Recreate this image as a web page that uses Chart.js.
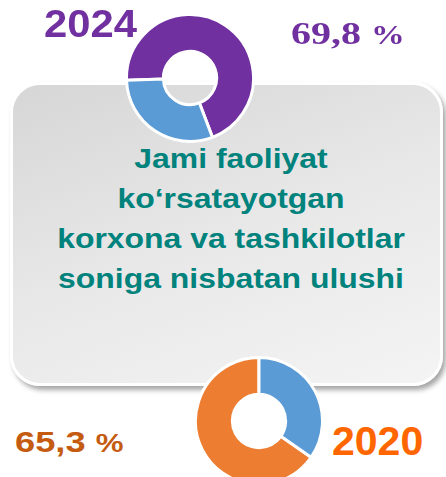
<!DOCTYPE html>
<html>
<head>
<meta charset="utf-8">
<script src="https://cdn.jsdelivr.net/npm/chart.js@4.4.1/dist/chart.umd.min.js"></script>
<style>
  html, body { margin: 0; padding: 0; background: #fff; }
  body { width: 446px; height: 477px; position: relative; overflow: hidden; font-family: "Liberation Sans", Arial, sans-serif; }
  .box {
    position: absolute; left: 10px; top: 82px; width: 427px; height: 298px;
    border: 3px solid #fff; border-radius: 30px;
    background: linear-gradient(160deg, #d6d6d6 0%, #e8e8e8 50%, #f4f4f4 100%);
    box-shadow: 3px 4px 5px rgba(0, 0, 0, 0.35);
  }
  .title {
    position: absolute; left: 0; width: 462px; top: 139px;
    text-align: center; color: #00827d; font-weight: bold; font-size: 28px; line-height: 40px;
    transform: scaleX(1.14); transform-origin: 231px 0;
  }
  .pie { position: absolute; }
  .lbl { position: absolute; font-weight: bold; white-space: nowrap; transform-origin: left top; }
</style>
</head>
<body>
<div class="box"></div>
<div class="title" id="title"></div>
<canvas class="pie" id="pie2024" width="130" height="130" style="left:125px; top:13px;"></canvas>
<canvas class="pie" id="pie2020" width="130" height="130" style="left:194px; top:356px;"></canvas>
<div class="lbl" id="y2024" style="left:44px; top:3px; font-size:38px; color:#7030a0; transform:scaleX(1.1);"></div>
<div class="lbl" id="p2024" style="left:291px; top:15px; font-family:'Liberation Serif', serif; font-size:32px; color:#7030a0; transform:scaleX(1.25);"></div>
<div class="lbl" id="p2020" style="left:15px; top:426px; font-size:29px; color:#c55a11; transform:scaleX(1.25);"></div>
<div class="lbl" id="y2020" style="left:332px; top:418px; font-size:41px; color:#ff6600;"></div>
<script>
const years = ["2024", "2020"];
const shareValues = [69.8, 65.3];
const otherValues = [30.2, 34.7];
const shareText = ["69,8", "65,3"];
const titleLines = ["Jami faoliyat", "ko\u2018rsatayotgan", "korxona va tashkilotlar", "soniga nisbatan ulushi"];

document.getElementById("title").innerHTML = titleLines.join("<br>");
document.getElementById("y2024").textContent = years[0];
document.getElementById("y2020").textContent = years[1];
document.getElementById("p2024").innerHTML = shareText[0] + ' <span style="font-size:27px">%</span>';
document.getElementById("p2020").innerHTML = shareText[1] + ' <span style="font-size:25px">%</span>';

function makePie(id, idx, shareColor, rotation) {
  new Chart(document.getElementById(id), {
    type: "doughnut",
    data: {
      labels: ["Ulush", "Boshqa"],
      datasets: [{
        data: [shareValues[idx], otherValues[idx]],
        backgroundColor: [shareColor, "#5b9bd5"],
        borderColor: "#ffffff",
        borderWidth: 3,
      }],
    },
    options: {
      responsive: false,
      animation: false,
      cutout: "42%",
      rotation: rotation,
      plugins: { legend: { display: false }, tooltip: { enabled: false } },
    },
  });
}

makePie("pie2024", 0, "#7030a0", -92);
makePie("pie2020", 1, "#ed7d31", otherValues[1] * 3.6);
</script>
</body>
</html>
